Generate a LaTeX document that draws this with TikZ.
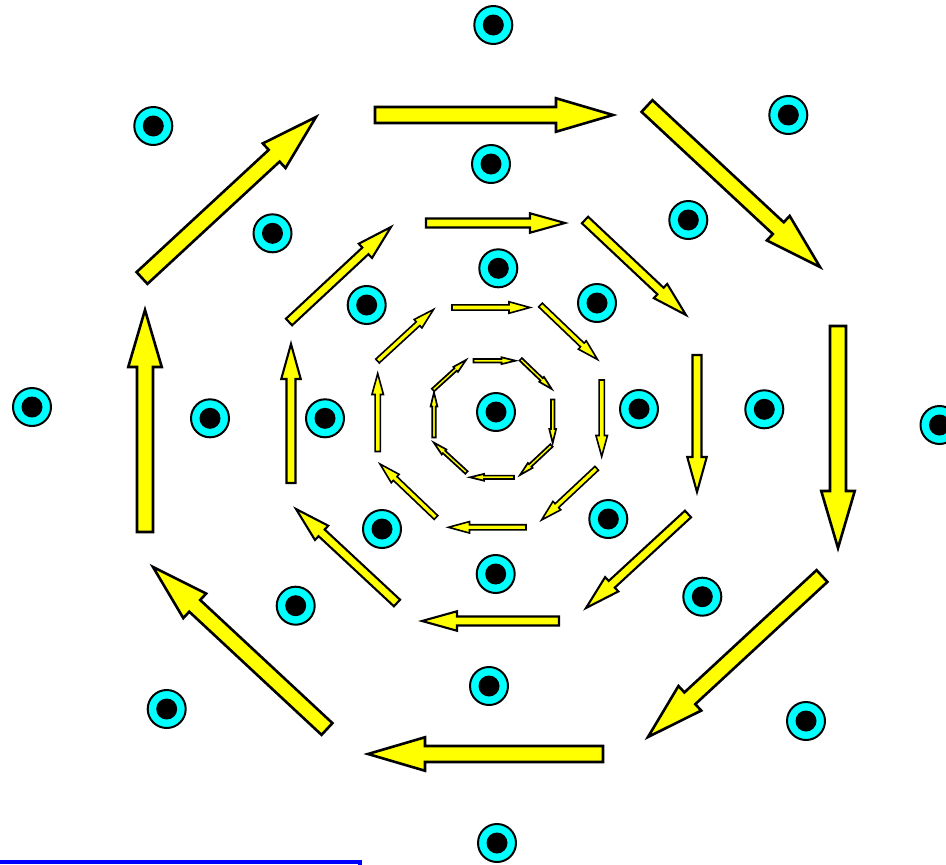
\documentclass[tikz,border=0pt]{standalone}
\usetikzlibrary{calc}
\definecolor{dotcyan}{RGB}{0,255,255}
\definecolor{arryellow}{RGB}{255,255,0}
\definecolor{lineblue}{RGB}{0,0,255}
\tikzset{
  dot/.style={circle, draw=black, line width=2pt, fill=dotcyan, minimum size=38pt, inner sep=0pt,
    path picture={\fill[black] (path picture bounding box.center) circle (10.5pt);}},
  yarrowsty/.style={draw=black, fill=arryellow, line join=miter},
  bluebox/.style={draw=lineblue, line width=4pt}
}
% x1 y1 x2 y2 shaftwidth headwidth headlength linewidth
\newcommand\yarr[8]{%
  \pgfmathsetmacro\yang{atan2(-(#4-#2),#3-#1)}%
  \pgfmathsetmacro\ylen{veclen(#3-#1,#4-#2)}%
  \draw[yarrowsty, line width=#8pt, shift={(#1,#2)}, rotate=\yang]
    (0,{-#5/2}) -- ({\ylen-#7},{-#5/2}) -- ({\ylen-#7},{-#6/2}) -- (\ylen,0)
    -- ({\ylen-#7},{#6/2}) -- ({\ylen-#7},{#5/2}) -- (0,{#5/2}) -- cycle;%
}
\begin{document}
\begin{tikzpicture}[x=1pt,y=-1pt]
\useasboundingbox (0,0) rectangle (946,865);
% blue box edge at bottom left
\draw[bluebox] (-10,862) -- (360,862) -- (360,900);
% outer ring of arrows
\def\yShA{16}\def\yHwA{33.5}\def\yHlA{57}\def\yLwA{2.6}
\yarr{375}{115}{613}{115}{\yShA}{\yHwA}{\yHlA}{\yLwA}
\yarr{647}{106}{820}{267}{\yShA}{\yHwA}{\yHlA}{\yLwA}
\yarr{838}{326}{838}{548}{\yShA}{\yHwA}{\yHlA}{\yLwA}
\yarr{822}{576}{648}{737}{\yShA}{\yHwA}{\yHlA}{\yLwA}
\yarr{603}{754}{368}{754}{\yShA}{\yHwA}{\yHlA}{\yLwA}
\yarr{327}{729}{153}{567}{\yShA}{\yHwA}{\yHlA}{\yLwA}
\yarr{145}{532}{145}{310}{\yShA}{\yHwA}{\yHlA}{\yLwA}
\yarr{142}{278}{316}{117}{\yShA}{\yHwA}{\yHlA}{\yLwA}
% second ring
\def\yShB{9}\def\yHwB{19.5}\def\yHlB{35}\def\yLwB{2.1}
\yarr{426}{223}{565}{223}{\yShB}{\yHwB}{\yHlB}{\yLwB}
\yarr{585}{220}{686}{315}{\yShB}{\yHwB}{\yHlB}{\yLwB}
\yarr{697}{355}{697}{492}{\yShB}{\yHwB}{\yHlB}{\yLwB}
\yarr{688}{514}{586}{608}{\yShB}{\yHwB}{\yHlB}{\yLwB}
\yarr{559}{621}{422}{621}{\yShB}{\yHwB}{\yHlB}{\yLwB}
\yarr{397}{603}{296}{509}{\yShB}{\yHwB}{\yHlB}{\yLwB}
\yarr{291}{483}{291}{344}{\yShB}{\yHwB}{\yHlB}{\yLwB}
\yarr{289}{322}{391}{227}{\yShB}{\yHwB}{\yHlB}{\yLwB}
% third ring
\def\yShC{5.2}\def\yHwC{11.5}\def\yHlC{21}\def\yLwC{1.6}
\yarr{452}{307.5}{530}{307.5}{\yShC}{\yHwC}{\yHlC}{\yLwC}
\yarr{540.5}{305}{597.5}{359.5}{\yShC}{\yHwC}{\yHlC}{\yLwC}
\yarr{601.7}{380}{601.7}{456.5}{\yShC}{\yHwC}{\yHlC}{\yLwC}
\yarr{596.7}{468.3}{541.5}{520}{\yShC}{\yHwC}{\yHlC}{\yLwC}
\yarr{526}{527.3}{448.5}{527.3}{\yShC}{\yHwC}{\yHlC}{\yLwC}
\yarr{436}{517.5}{380}{464}{\yShC}{\yHwC}{\yHlC}{\yLwC}
\yarr{377.7}{451.5}{377.7}{373.5}{\yShC}{\yHwC}{\yHlC}{\yLwC}
\yarr{377.5}{361}{433.5}{309.5}{\yShC}{\yHwC}{\yHlC}{\yLwC}
% innermost ring
\def\yShD{3.4}\def\yHwD{6.8}\def\yHlD{14}\def\yLwD{1.7}
\yarr{473.5}{360.7}{515.5}{360.7}{\yShD}{\yHwD}{\yHlD}{\yLwD}
\yarr{520.7}{359.3}{551.7}{389}{\yShD}{\yHwD}{\yHlD}{\yLwD}
\yarr{552.7}{399.5}{552.7}{443}{\yShD}{\yHwD}{\yHlD}{\yLwD}
\yarr{551.5}{445.5}{520}{475}{\yShD}{\yHwD}{\yHlD}{\yLwD}
\yarr{514}{477.3}{470}{477.3}{\yShD}{\yHwD}{\yHlD}{\yLwD}
\yarr{466.5}{472.5}{433.7}{442.5}{\yShD}{\yHwD}{\yHlD}{\yLwD}
\yarr{434}{437.5}{434}{392.5}{\yShD}{\yHwD}{\yHlD}{\yLwD}
\yarr{433}{390}{466}{360}{\yShD}{\yHwD}{\yHlD}{\yLwD}
% dots: outer ring
\node[dot] (o1) at (493.3,25) {};
\node[dot] (o2) at (788.3,115) {};
\node[dot] (o3) at (939.5,425) {};
\node[dot] (o4) at (806,721) {};
\node[dot] (o5) at (497,843) {};
\node[dot] (o6) at (166.7,709) {};
\node[dot] (o7) at (32,407) {};
\node[dot] (o8) at (153.3,126) {};
% dots: second ring
\node[dot] (m1) at (491,164) {};
\node[dot] (m2) at (688.3,220) {};
\node[dot] (m3) at (764.3,409.3) {};
\node[dot] (m4) at (702.3,596.7) {};
\node[dot] (m5) at (489,686) {};
\node[dot] (m6) at (295.7,605.7) {};
\node[dot] (m7) at (210,418.3) {};
\node[dot] (m8) at (272.5,233.3) {};
% dots: third ring
\node[dot] (i1) at (498.3,268.3) {};
\node[dot] (i2) at (597,303) {};
\node[dot] (i3) at (639,409) {};
\node[dot] (i4) at (608.3,519) {};
\node[dot] (i5) at (495.7,574) {};
\node[dot] (i6) at (382,529) {};
\node[dot] (i7) at (325,418.3) {};
\node[dot] (i8) at (366.7,305) {};
% centre dot
\node[dot] (c) at (496,412) {};
\end{tikzpicture}
\end{document}
